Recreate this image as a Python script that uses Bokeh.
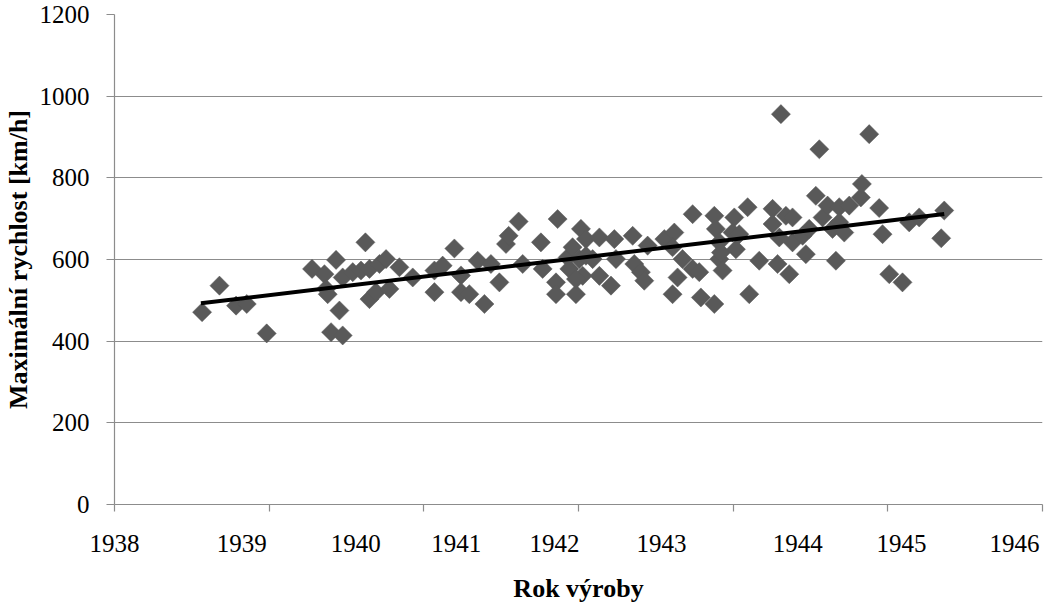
import numpy as np
from bokeh.plotting import figure
from bokeh.models import Range1d, FixedTicker
from bokeh.embed import file_html
from bokeh.resources import INLINE

# --- data ---
year = [1938.755, 1938.905, 1939.048, 1939.140, 1939.312, 1939.703, 1939.810, 1939.910,
        1940.163, 1939.824, 1939.838, 1939.939, 1939.867, 1939.967, 1939.967, 1940.054,
        1940.125, 1940.198, 1940.284, 1940.341, 1940.198, 1940.254, 1940.370, 1940.456,
        1940.571, 1940.758, 1940.758, 1940.829, 1940.930, 1940.987, 1940.987, 1941.059,
        1941.131, 1941.189, 1941.245, 1941.318, 1941.375, 1941.398, 1941.484, 1941.519,
        1941.676, 1941.691, 1941.820, 1941.806, 1941.806, 1941.906, 1941.921, 1941.949,
        1941.978, 1942.021, 1942.064, 1942.007, 1942.036, 1941.978, 1942.064, 1942.122,
        1942.180, 1942.180, 1942.280, 1942.309, 1942.323, 1942.467, 1942.481, 1942.538,
        1942.567, 1942.596, 1942.740, 1942.826, 1942.811, 1942.897, 1942.854, 1942.811,
        1942.984, 1942.984, 1943.041, 1943.055, 1943.171, 1943.171, 1943.184, 1943.214,
        1943.242, 1943.343, 1943.328, 1943.357, 1943.458, 1943.472, 1943.214, 1943.228,
        1943.386, 1943.558, 1943.673, 1943.673, 1943.745, 1943.731, 1943.716, 1943.817,
        1943.788, 1943.845, 1943.845, 1943.960, 1943.932, 1943.989, 1944.046, 1944.076,
        1944.104, 1944.147, 1944.190, 1944.219, 1944.248, 1944.248, 1944.291, 1944.334,
        1944.434, 1944.443, 1944.506, 1944.592, 1944.621, 1944.679, 1944.793, 1944.851,
        1944.937, 1945.153, 1945.127]
speed = [471, 536, 487, 491, 419, 577, 564, 599,
         642, 528, 515, 475, 422, 414, 556, 569,
         573, 577, 589, 601, 503, 520, 528, 581,
         556, 573, 520, 585, 627, 561, 520, 515,
         597, 491, 589, 544, 638, 658, 693, 589,
         642, 577, 699, 544, 515, 605, 577, 630,
         515, 675, 650, 601, 560, 552, 609, 601,
         654, 560, 536, 650, 601, 658, 589, 569,
         548, 634, 650, 666, 630, 601, 556, 515,
         711, 577, 569, 507, 707, 491, 675, 601,
         573, 703, 666, 625, 728, 515, 642, 617,
         662, 597, 724, 687, 956, 654, 589, 564,
         707, 703, 642, 613, 658, 675, 756, 870,
         703, 732, 675, 597, 728, 691, 666, 732,
         752, 785, 907, 726, 662, 564, 544, 691,
         703, 720, 652]

trend_year = [1938.745, 1945.153]
trend_speed = [492.6, 711.2]

y_ticks = [0, 200, 400, 600, 800, 1000, 1200]
x_tick_marks = [1938.0, 1939.3333, 1940.6667, 1942.0, 1943.3333, 1944.6667, 1946.0]
x_label_pos = [1938.0, 1939.097, 1940.079, 1940.947, 1941.794, 1942.716, 1943.891, 1944.785, 1945.759]
x_label_text = ["1938", "1939", "1940", "1941", "1942", "1943", "1944", "1945", "1946"]

GRAY = "#8c8c8c"
FONT = "Liberation Serif"

p = figure(width=1045, height=608, output_backend="svg", toolbar_location=None,
           x_range=Range1d(1938, 1946), y_range=Range1d(0, 1200),
           min_border_left=114, min_border_right=3, min_border_top=14, min_border_bottom=104)
p.outline_line_color = None
p.background_fill_color = "white"
p.border_fill_color = "white"

p.xgrid.visible = False
p.ygrid.grid_line_color = GRAY
p.ygrid.grid_line_width = 1.2

# y axis
yax = p.yaxis[0]
yax.ticker = FixedTicker(ticks=y_ticks)
yax.minor_tick_line_color = None
yax.major_tick_in = 0
yax.major_tick_out = 8
yax.axis_line_color = GRAY
yax.axis_line_width = 1.2
yax.major_tick_line_color = GRAY
yax.major_tick_line_width = 1.2
yax.major_label_text_font = FONT
yax.major_label_text_font_size = "25px"
yax.major_label_text_color = "black"
yax.major_label_standoff = 17
yax.axis_label = "Maximální rychlost [km/h]"
yax.axis_label_text_font = FONT
yax.axis_label_text_font_size = "26px"
yax.axis_label_text_font_style = "bold"
yax.axis_label_text_color = "black"
yax.axis_label_standoff = 4

# x axis: labels as major ticks (no marks), tick marks as minor ticks
xax = p.xaxis[0]
xax.ticker = FixedTicker(ticks=x_label_pos, minor_ticks=x_tick_marks)
xax.major_label_overrides = {pos: txt for pos, txt in zip(x_label_pos, x_label_text)}
xax.major_tick_line_color = None
xax.major_tick_in = 0
xax.major_tick_out = 0
xax.minor_tick_in = 0
xax.minor_tick_out = 7
xax.minor_tick_line_color = GRAY
xax.minor_tick_line_width = 1.2
xax.axis_line_color = GRAY
xax.axis_line_width = 1.2
xax.major_label_text_font = FONT
xax.major_label_text_font_size = "25px"
xax.major_label_text_color = "black"
xax.major_label_standoff = 23
xax.axis_label = "Rok výroby"
xax.axis_label_text_font = FONT
xax.axis_label_text_font_size = "26px"
xax.axis_label_text_font_style = "bold"
xax.axis_label_text_color = "black"
xax.axis_label_standoff = 19

p.scatter(year, speed, marker="square", size=13.5, angle=np.pi / 4,
          fill_color="#595959", line_color="#595959", line_width=0.5)
p.line(trend_year, trend_speed, line_color="black", line_width=4)

open("out.html", "w").write(file_html(p, INLINE))
